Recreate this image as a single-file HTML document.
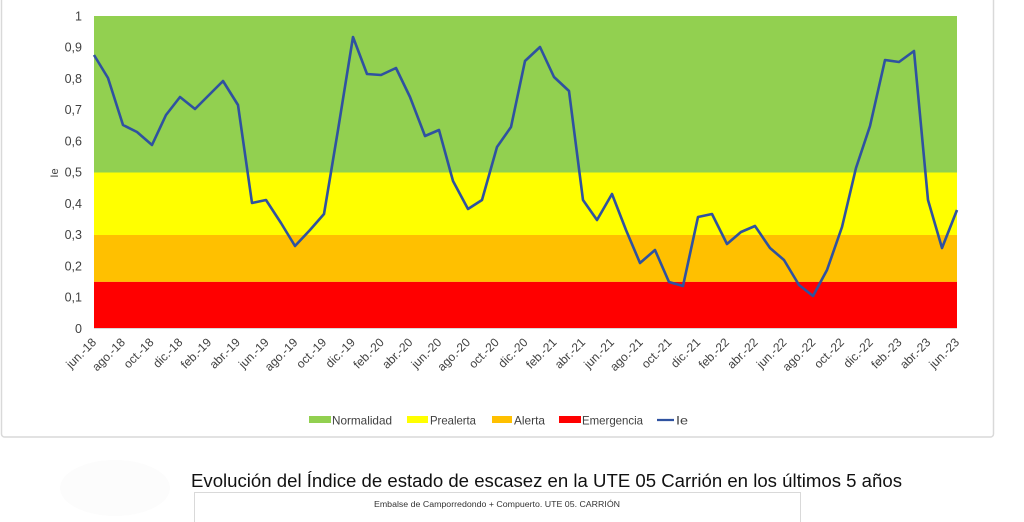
<!DOCTYPE html>
<html><head><meta charset="utf-8"><style>
html,body{margin:0;padding:0;background:#fff;}
svg{display:block;}
</style></head><body>
<svg width="1024" height="522" viewBox="0 0 1024 522" xmlns="http://www.w3.org/2000/svg" font-family="'Liberation Sans', sans-serif">
<rect x="0" y="0" width="1024" height="522" fill="#fff"/>
<!-- chart frame -->
<rect x="1.5" y="-10" width="992" height="447" rx="3" fill="#fff" stroke="#d9d9d9" stroke-width="1.5"/>
<!-- bands -->
<rect x="94" y="16" width="863" height="156.5" fill="#92d050"/>
<rect x="94" y="172.5" width="863" height="62.5" fill="#ffff00"/>
<rect x="94" y="235" width="863" height="46.9" fill="#ffc000"/>
<rect x="94" y="281.9" width="863" height="46.6" fill="#ff0000"/>
<line x1="94" y1="328.5" x2="957" y2="328.5" stroke="#d9d9d9" stroke-width="1"/>
<!-- y labels -->
<g font-size="12.5" fill="#404040" text-anchor="end">
<text x="82" y="20.5">1</text>
<text x="82" y="51.7">0,9</text>
<text x="82" y="83">0,8</text>
<text x="82" y="114.2">0,7</text>
<text x="82" y="145.5">0,6</text>
<text x="82" y="176.7">0,5</text>
<text x="82" y="208">0,4</text>
<text x="82" y="239.2">0,3</text>
<text x="82" y="270.5">0,2</text>
<text x="82" y="301.7">0,1</text>
<text x="82" y="333">0</text>
</g>
<text x="0" y="0" font-size="11" fill="#404040" text-anchor="middle" transform="translate(58,173) rotate(-90)">Ie</text>
<!-- x labels -->
<g font-size="12" fill="#404040" text-anchor="end">
<text transform="translate(97,343) rotate(-45)">jun.-18</text>
<text transform="translate(125.8,343) rotate(-45)">ago.-18</text>
<text transform="translate(154.5,343) rotate(-45)">oct.-18</text>
<text transform="translate(183.3,343) rotate(-45)">dic.-18</text>
<text transform="translate(212.1,343) rotate(-45)">feb.-19</text>
<text transform="translate(240.8,343) rotate(-45)">abr.-19</text>
<text transform="translate(269.6,343) rotate(-45)">jun.-19</text>
<text transform="translate(298.4,343) rotate(-45)">ago.-19</text>
<text transform="translate(327.1,343) rotate(-45)">oct.-19</text>
<text transform="translate(355.9,343) rotate(-45)">dic.-19</text>
<text transform="translate(384.7,343) rotate(-45)">feb.-20</text>
<text transform="translate(413.4,343) rotate(-45)">abr.-20</text>
<text transform="translate(442.2,343) rotate(-45)">jun.-20</text>
<text transform="translate(471,343) rotate(-45)">ago.-20</text>
<text transform="translate(499.7,343) rotate(-45)">oct.-20</text>
<text transform="translate(528.5,343) rotate(-45)">dic.-20</text>
<text transform="translate(557.3,343) rotate(-45)">feb.-21</text>
<text transform="translate(586,343) rotate(-45)">abr.-21</text>
<text transform="translate(614.8,343) rotate(-45)">jun.-21</text>
<text transform="translate(643.6,343) rotate(-45)">ago.-21</text>
<text transform="translate(672.3,343) rotate(-45)">oct.-21</text>
<text transform="translate(701.1,343) rotate(-45)">dic.-21</text>
<text transform="translate(729.9,343) rotate(-45)">feb.-22</text>
<text transform="translate(758.6,343) rotate(-45)">abr.-22</text>
<text transform="translate(787.4,343) rotate(-45)">jun.-22</text>
<text transform="translate(816.2,343) rotate(-45)">ago.-22</text>
<text transform="translate(844.9,343) rotate(-45)">oct.-22</text>
<text transform="translate(873.7,343) rotate(-45)">dic.-22</text>
<text transform="translate(902.5,343) rotate(-45)">feb.-23</text>
<text transform="translate(931.2,343) rotate(-45)">abr.-23</text>
<text transform="translate(960,343) rotate(-45)">jun.-23</text>
</g>
<!-- series -->
<polyline fill="none" stroke="#2f52a0" stroke-width="2.6" stroke-linejoin="round" points="94,55 108,78 123,125 137,132 152,145 166,115 180,97 195,109 209,95 223,81 238,105 252,203 266,200 281,223 295,246 310,230 324,214 338,130 353,37 367,74 381,75 396,68 410,97 425,136 439,130 453,181 468,209 482,200 497,147 511,127 525,61 540,47 554,77 569,91 583,200 597,220 612,194 626,230 640,263 655,250 669,282 683,286 698,217 712,214 727,244 741,232 755,226 770,248 784,260 799,285 813,296 827,270 842,227 856,168 870,126 885,60 899,62 914,51 928,200 942,248 957,210"/>
<!-- legend -->
<g font-size="12" fill="#404040">
<rect x="309" y="416" width="22" height="7" fill="#92d050"/>
<text x="332" y="424.5" textLength="60" lengthAdjust="spacingAndGlyphs">Normalidad</text>
<rect x="407" y="416" width="21" height="7" fill="#ffff00"/>
<text x="430" y="424.5" textLength="46" lengthAdjust="spacingAndGlyphs">Prealerta</text>
<rect x="492" y="416" width="20" height="7" fill="#ffc000"/>
<text x="514" y="424.5" textLength="31" lengthAdjust="spacingAndGlyphs">Alerta</text>
<rect x="559" y="416" width="22" height="7" fill="#ff0000"/>
<text x="582" y="424.5" textLength="61" lengthAdjust="spacingAndGlyphs">Emergencia</text>
<line x1="657" y1="420" x2="674" y2="420" stroke="#2f52a0" stroke-width="2.2"/>
<text x="676" y="424.5" textLength="12" lengthAdjust="spacingAndGlyphs">Ie</text>
</g>
<!-- faint logo -->
<ellipse cx="115" cy="488" rx="55" ry="28" fill="#fcfcfc"/>
<!-- caption -->
<text x="191" y="487" font-size="18" fill="#111" textLength="711" lengthAdjust="spacingAndGlyphs">Evolución del Índice de estado de escasez en la UTE 05 Carrión en los últimos 5 años</text>
<!-- second chart box -->
<rect x="194.5" y="492.5" width="606" height="40" fill="#fff" stroke="#d9d9d9" stroke-width="1"/>
<text x="374" y="507" font-size="8" fill="#333" textLength="246" lengthAdjust="spacingAndGlyphs">Embalse de Camporredondo + Compuerto. UTE 05. CARRIÓN</text>
</svg>
</body></html>
